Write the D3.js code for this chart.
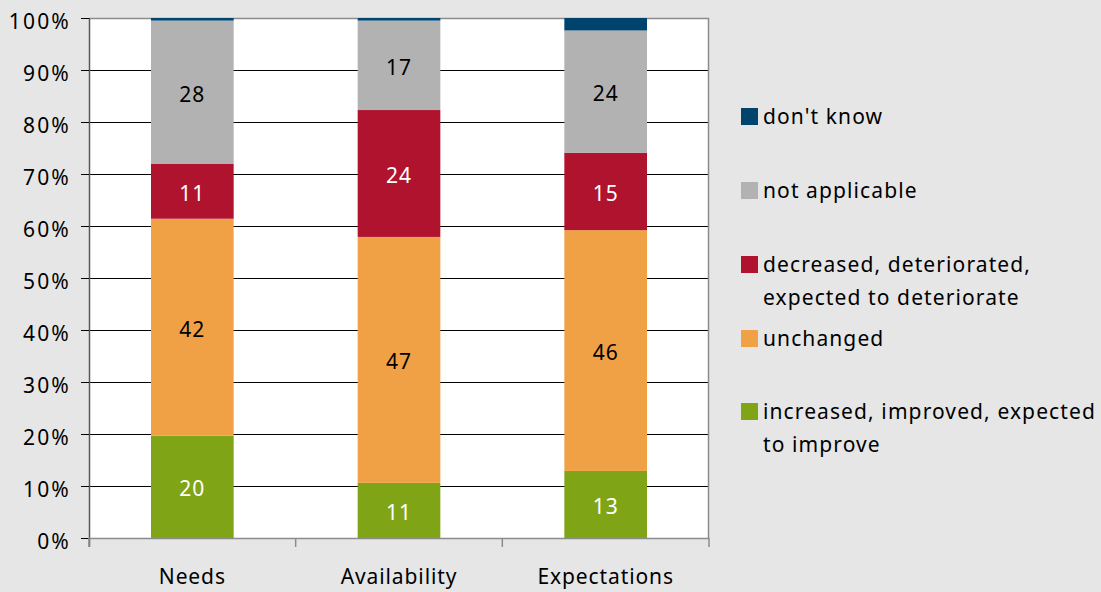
<!DOCTYPE html>
<html>
<head>
<meta charset="utf-8">
<script src="https://cdn.jsdelivr.net/npm/d3@7"></script>
<style>
  html, body { margin: 0; padding: 0; background: #e6e6e6; }
  svg { display: block; font-family: "Noto Sans", "Open Sans", sans-serif; }
</style>
</head>
<body>
<svg id="chart" width="1101" height="592"></svg>
<script>
// Survey responses per question (percent of respondents)
const categories = ["Needs", "Availability", "Expectations"];
const seriesKeys = ["improve", "unchanged", "deteriorate", "notApplicable", "dontKnow"];
const seriesNames = [
  "increased, improved, expected to improve",
  "unchanged",
  "decreased, deteriorated, expected to deteriorate",
  "not applicable",
  "don't know"
];
const improveValues       = [19.7, 10.6, 12.9];
const unchangedValues     = [41.7, 47.3, 46.3];
const deteriorateValues   = [10.6, 24.4, 14.9];
const notApplicableValues = [27.5, 17.2, 23.5];
const dontKnowValues      = [0.5, 0.5, 2.4];
const yTickValues = [0, 0.1, 0.2, 0.3, 0.4, 0.5, 0.6, 0.7, 0.8, 0.9, 1];

const colors = {
  improve: "#7fa517",
  unchanged: "#f1a145",
  deteriorate: "#b0132e",
  notApplicable: "#b2b2b2",
  dontKnow: "#00446e"
};
const labelColors = {
  improve: "#ffffff",
  unchanged: "#000000",
  deteriorate: "#ffffff",
  notApplicable: "#000000"
};

const rows = categories.map((c, i) => ({
  category: c,
  improve: improveValues[i],
  unchanged: unchangedValues[i],
  deteriorate: deteriorateValues[i],
  notApplicable: notApplicableValues[i],
  dontKnow: dontKnowValues[i]
}));

const stacked = d3.stack()
  .keys(seriesKeys)
  .offset(d3.stackOffsetExpand)(rows);

const svg = d3.select("#chart");
const plot = { left: 89, right: 709, top: 18, bottom: 538 };
const fontSize = 21;

const x = d3.scaleBand().domain(categories).range([plot.left, plot.right]).padding(0);
const y = d3.scaleLinear().domain([0, 1]).range([plot.bottom, plot.top]);
const barWidth = x.bandwidth() * 0.4;

// plot area background
svg.append("rect")
  .attr("x", plot.left).attr("y", plot.top)
  .attr("width", plot.right - plot.left).attr("height", plot.bottom - plot.top)
  .attr("fill", "#ffffff");

// horizontal gridlines
svg.append("g")
  .selectAll("line")
  .data(yTickValues.filter(v => v > 0 && v < 1))
  .join("line")
  .attr("x1", plot.left).attr("x2", plot.right)
  .attr("y1", d => Math.round(y(d)) + 0.5).attr("y2", d => Math.round(y(d)) + 0.5)
  .attr("stroke", "#000").attr("stroke-width", 1);

// plot frame: top and right edges
svg.append("path")
  .attr("d", `M${plot.left},${plot.top + 0.5}H${plot.right - 0.5}V${plot.bottom}`)
  .attr("fill", "none").attr("stroke", "#8c8c8c").attr("stroke-width", 1.5);

// stacked bars
const layers = svg.append("g")
  .selectAll("g")
  .data(stacked)
  .join("g")
  .attr("fill", d => colors[d.key]);

layers.selectAll("rect")
  .data(d => d.map(s => ({ key: d.key, seg: s })))
  .join("rect")
  .attr("x", d => x(d.seg.data.category) + (x.bandwidth() - barWidth) / 2)
  .attr("y", d => y(d.seg[1]))
  .attr("width", barWidth)
  .attr("height", d => y(d.seg[0]) - y(d.seg[1]));

// value labels inside segments
svg.append("g")
  .selectAll("g")
  .data(stacked.filter(s => s.key !== "dontKnow"))
  .join("g")
  .selectAll("text")
  .data(d => d.map(s => ({ key: d.key, seg: s })))
  .join("text")
  .attr("x", d => x(d.seg.data.category) + x.bandwidth() / 2)
  .attr("y", d => (y(d.seg[0]) + y(d.seg[1])) / 2)
  .attr("dy", "0.45em")
  .attr("text-anchor", "middle")
  .attr("font-size", fontSize)
  .attr("letter-spacing", 1)
  .attr("fill", d => labelColors[d.key])
  .text(d => Math.round(d.seg.data[d.key]));

// y axis
const yAxis = svg.append("g")
  .attr("transform", `translate(${plot.left},0)`)
  .call(d3.axisLeft(y).tickValues(yTickValues).tickFormat(d3.format(".0%")).tickSize(8).tickPadding(10));
yAxis.select(".domain").attr("stroke", "#595959").attr("stroke-width", 1.5)
  .attr("d", `M0.5,${plot.top}V${plot.bottom + 9}`);
yAxis.selectAll(".tick line").attr("stroke", "#000");
yAxis.selectAll(".tick text")
  .attr("font-size", fontSize).attr("fill", "#000").attr("letter-spacing", 2.2)
  .attr("dy", "0.5em")
  .attr("font-family", "Noto Sans, Open Sans, sans-serif");

// x axis
const xAxis = svg.append("g")
  .attr("transform", `translate(0,${plot.bottom})`)
  .call(d3.axisBottom(x).tickSize(0).tickPadding(31));
xAxis.select(".domain").attr("stroke", "#8c8c8c").attr("stroke-width", 1.5)
  .attr("d", `M${plot.left},0.5H${plot.right}`);
xAxis.selectAll(".tick text")
  .attr("font-size", fontSize).attr("fill", "#000").attr("letter-spacing", 0.9)
  .attr("font-family", "Noto Sans, Open Sans, sans-serif");

// category boundary ticks
const boundaries = categories.map(c => x(c)).concat([x.range()[1]]);
svg.append("g")
  .selectAll("line")
  .data(boundaries)
  .join("line")
  .attr("x1", d => d).attr("x2", d => d)
  .attr("y1", plot.bottom).attr("y2", plot.bottom + 9)
  .attr("stroke", "#8c8c8c").attr("stroke-width", 1.5);

// legend (top entry = top of stack)
const legendItems = seriesKeys.map((k, i) => ({ key: k, name: seriesNames[i] })).reverse();
const legendLines = {
  dontKnow: ["don't know"],
  notApplicable: ["not applicable"],
  deteriorate: ["decreased, deteriorated,", "expected to deteriorate"],
  unchanged: ["unchanged"],
  improve: ["increased, improved, expected", "to improve"]
};
const legendBaselines = [125, 199, 273, 347, 420];
const legend = svg.append("g").attr("transform", "translate(741,0)");
const entries = legend.selectAll("g")
  .data(legendItems)
  .join("g")
  .attr("transform", (d, i) => `translate(0,${legendBaselines[i]})`);
entries.append("rect")
  .attr("x", 0).attr("y", -17).attr("width", 17).attr("height", 17)
  .attr("fill", d => colors[d.key]);
entries.append("text")
  .attr("font-size", fontSize)
  .attr("letter-spacing", 1.1)
  .attr("fill", "#000")
  .selectAll("tspan")
  .data(d => legendLines[d.key])
  .join("tspan")
  .attr("x", 22)
  .attr("y", (d, i) => i * 33 - 1)
  .text(d => d);
</script>
</body>
</html>
